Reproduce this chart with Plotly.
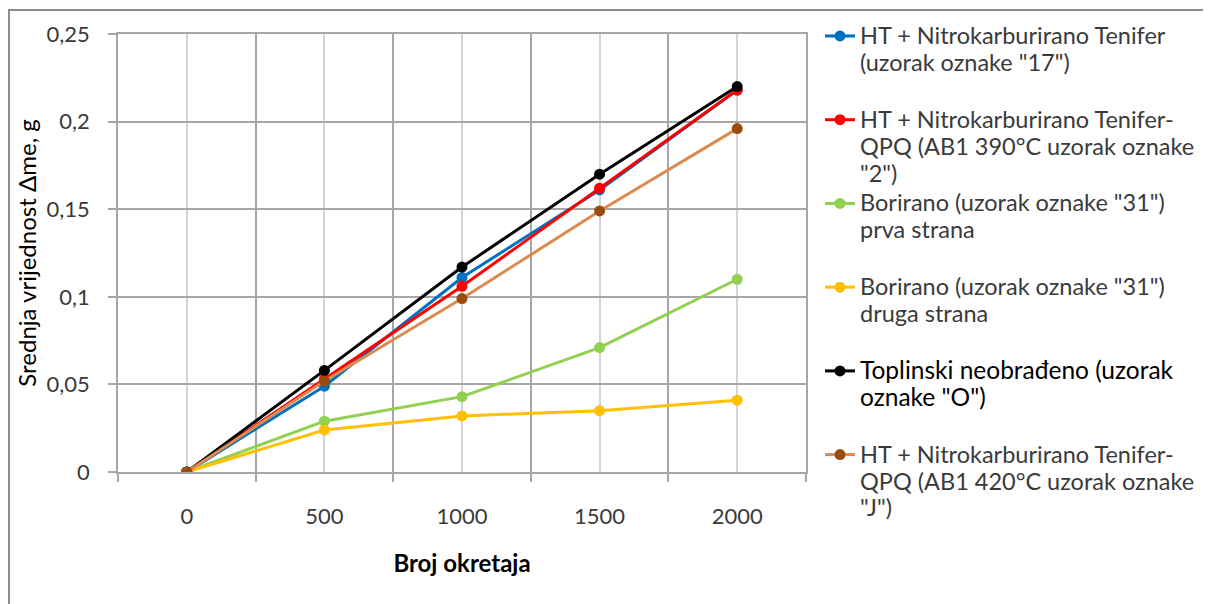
import plotly.graph_objects as go

# ---- data ----
revolutions = [0, 500, 1000, 1500, 2000]
x_tick_labels = ["0", "500", "1000", "1500", "2000"]

s17 = [0, 0.049, 0.111, 0.161, 0.218]
s2 = [0, 0.053, 0.106, 0.162, 0.218]
s31a = [0, 0.029, 0.043, 0.071, 0.110]
s31b = [0, 0.024, 0.032, 0.035, 0.041]
sO = [0, 0.058, 0.117, 0.170, 0.220]
sJ = [0, 0.052, 0.099, 0.149, 0.196]

legend_lines = [
    ['HT + Nitrokarburirano Tenifer', '(uzorak oznake "17")'],
    ['HT + Nitrokarburirano Tenifer-', 'QPQ (AB1 390°C uzorak oznake', '"2")'],
    ['Borirano (uzorak oznake "31")', 'prva strana'],
    ['Borirano (uzorak oznake "31")', 'druga strana'],
    ['Toplinski neobrađeno (uzorak', 'oznake "O")'],
    ['HT + Nitrokarburirano Tenifer-', 'QPQ (AB1 420°C uzorak oznake', '"J")'],
]
series = [s17, s2, s31a, s31b, sO, sJ]
line_colors = ["#0070C0", "#FF0000", "#92D050", "#FFC000", "#000000", "#DD8A4E"]
marker_colors = ["#0070C0", "#FF0000", "#92D050", "#FFC000", "#000000", "#9A4B0E"]
text_styles = [
    "font-size:23.5px;color:#3a3a3a",
    "font-size:23.5px;color:#3a3a3a",
    "font-size:23.5px;color:#3a3a3a",
    "font-size:23.5px;color:#3a3a3a",
    "font-size:24.5px;color:#000000",
    "font-size:23.5px;color:#3a3a3a",
]

FONT = "Lato"


def legend_name(lines, style):
    parts = [f'<span style="{style}">{ln}</span>' for ln in lines]
    while len(parts) < 3:
        parts.append(" ")
    return "<br>".join(parts)


fig = go.Figure()
for i, ys in enumerate(series):
    fig.add_trace(go.Scatter(
        x=revolutions, y=ys, name=legend_name(legend_lines[i], text_styles[i]),
        mode="lines+markers",
        line=dict(color=line_colors[i], width=3),
        marker=dict(color=marker_colors[i], size=11),
        legendgroup=f"g{i}",
    ))

# page has an 8px body margin, so figure pixel = screen pixel - 8
OFF = 8
W, H = 1211, 604
L, R, T, B = 118 - OFF, 806 - OFF, 34 - OFF, 472 - OFF
pw, ph = R - L, B - T


def px_x(sx):
    return (sx - OFF - L) / pw


def px_y(sy):
    return (B - (sy - OFF)) / ph


fig.update_layout(
    width=W, height=H,
    margin=dict(l=L, r=W - R, t=T, b=H - B, pad=0, autoexpand=False),
    paper_bgcolor="white", plot_bgcolor="white",
    separators=",.",
    font=dict(family=FONT, color="#3a3a3a", size=20),
    showlegend=True,
    legend=dict(
        x=px_x(820), xanchor="left",
        y=px_y(16), yanchor="top",
        font=dict(family=FONT, size=20.7, color="#3a3a3a"),
        valign="top", tracegroupgap=0, maxheight=700,
        bgcolor="rgba(0,0,0,0)", borderwidth=0,
    ),
    xaxis=dict(
        range=[-250, 2250],
        tickmode="array", tickvals=revolutions, ticktext=x_tick_labels,
        ticks="", showgrid=True, gridcolor="#d4d4d4", gridwidth=1.5,
        ticklabelstandoff=24,
        tickfont=dict(family=FONT, size=22, color="#3a3a3a"),
        minor=dict(tick0=-250, dtick=500, showgrid=True, gridcolor="#a6a6a6",
                   gridwidth=1.5, ticks="outside", ticklen=8, tickcolor="#a6a6a6",
                   tickwidth=1.5),
        showline=True, linecolor="#a6a6a6", linewidth=1.5, mirror=True,
        zeroline=False,
        title=dict(text="<b>Broj okretaja</b>",
                   font=dict(family=FONT, size=24, color="#000000"), standoff=27),
    ),
    yaxis=dict(
        range=[0, 0.25], dtick=0.05, tick0=0,
        ticks="outside", ticklen=8, tickcolor="#a6a6a6", tickwidth=1.5,
        showgrid=True, gridcolor="#a6a6a6", gridwidth=1.5,
        ticklabelstandoff=14,
        tickfont=dict(family=FONT, size=22, color="#3a3a3a"),
        showline=True, linecolor="#a6a6a6", linewidth=1.5, mirror=True,
        zeroline=False,
        title=dict(text="Srednja vrijednost Δme, g",
                   font=dict(family=FONT, size=24, color="#000000"), standoff=3),
    ),
    shapes=[dict(
        type="rect", xref="paper", yref="paper",
        x0=px_x(9), x1=px_x(1230),
        y0=px_y(640), y1=px_y(10),
        line=dict(color="#8c8c8c", width=2), fillcolor="rgba(0,0,0,0)",
        layer="below",
    )],
)

fig.write_html("out.html")
